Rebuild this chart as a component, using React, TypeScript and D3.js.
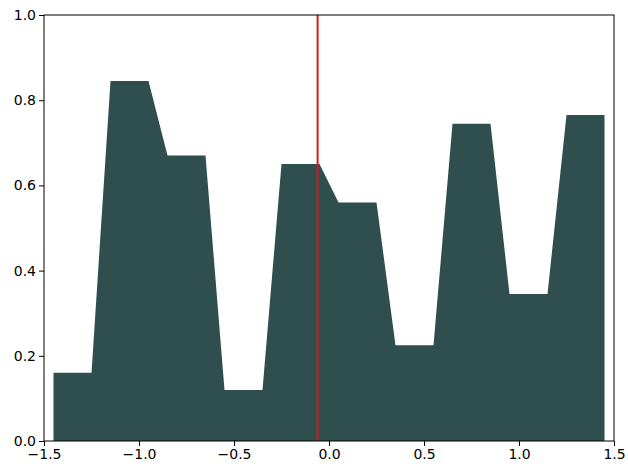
import React, { useRef, useEffect } from 'react';
import * as d3 from 'd3';

// bin centres and the height of each flat segment
const centers = [-1.35, -1.05, -0.75, -0.45, -0.15, 0.15, 0.45, 0.75, 1.05, 1.35];
const values = [0.16, 0.845, 0.67, 0.12, 0.65, 0.56, 0.225, 0.745, 0.345, 0.765];
const markerX = -0.06;
const xTicks = [-1.5, -1.0, -0.5, 0.0, 0.5, 1.0, 1.5];
const yTicks = [0.0, 0.2, 0.4, 0.6, 0.8, 1.0];

const App = () => {
  const svgRef = useRef<SVGSVGElement>(null);

  useEffect(() => {
    const w = 628;
    const h = 467;
    const m = { left: 44, right: 14, top: 15, bottom: 26 };
    const halfW = 0.1;

    const svg = d3.select(svgRef.current).attr('width', w).attr('height', h);
    svg.selectAll('*').remove();

    const x = d3.scaleLinear().domain([-1.5, 1.5]).range([m.left, w - m.right]);
    const y = d3.scaleLinear().domain([0, 1]).range([h - m.bottom, m.top]);

    const pts: [number, number][] = [];
    centers.forEach((c, i) => {
      pts.push([c - halfW, values[i]]);
      pts.push([c + halfW, values[i]]);
    });

    const area = d3.area<[number, number]>()
      .x(d => x(d[0]))
      .y0(y(0))
      .y1(d => y(d[1]));

    svg.append('path').datum(pts).attr('d', area).attr('fill', '#2f4f4f');

    svg.append('line')
      .attr('x1', x(markerX)).attr('x2', x(markerX))
      .attr('y1', y(0)).attr('y2', y(1))
      .attr('stroke', '#d01c1c').attr('stroke-width', 2);

    svg.append('rect')
      .attr('x', m.left).attr('y', m.top)
      .attr('width', w - m.left - m.right).attr('height', h - m.top - m.bottom)
      .attr('fill', 'none').attr('stroke', '#000').attr('stroke-width', 1);

    const xAxis = d3.axisBottom(x).tickValues(xTicks).tickSize(5).tickPadding(3)
      .tickFormat(d => d3.format('.1f')(d as number).replace('-', '\u2212'));
    const yAxis = d3.axisLeft(y).tickValues(yTicks).tickSize(5).tickPadding(3)
      .tickFormat(d => d3.format('.1f')(d as number));

    const gx = svg.append('g').attr('transform', `translate(0,${h - m.bottom})`).call(xAxis);
    const gy = svg.append('g').attr('transform', `translate(${m.left},0)`).call(yAxis);
    [gx, gy].forEach(g => {
      g.select('.domain').remove();
      g.selectAll('text').attr('font-family', 'DejaVu Sans').attr('font-size', 14).attr('fill', '#000');
      g.selectAll('line').attr('stroke', '#000');
    });
  }, []);

  return (
    <div style={{ position: 'absolute', left: 0, top: 0 }}>
      <svg ref={svgRef}></svg>
    </div>
  );
};

export default App;
